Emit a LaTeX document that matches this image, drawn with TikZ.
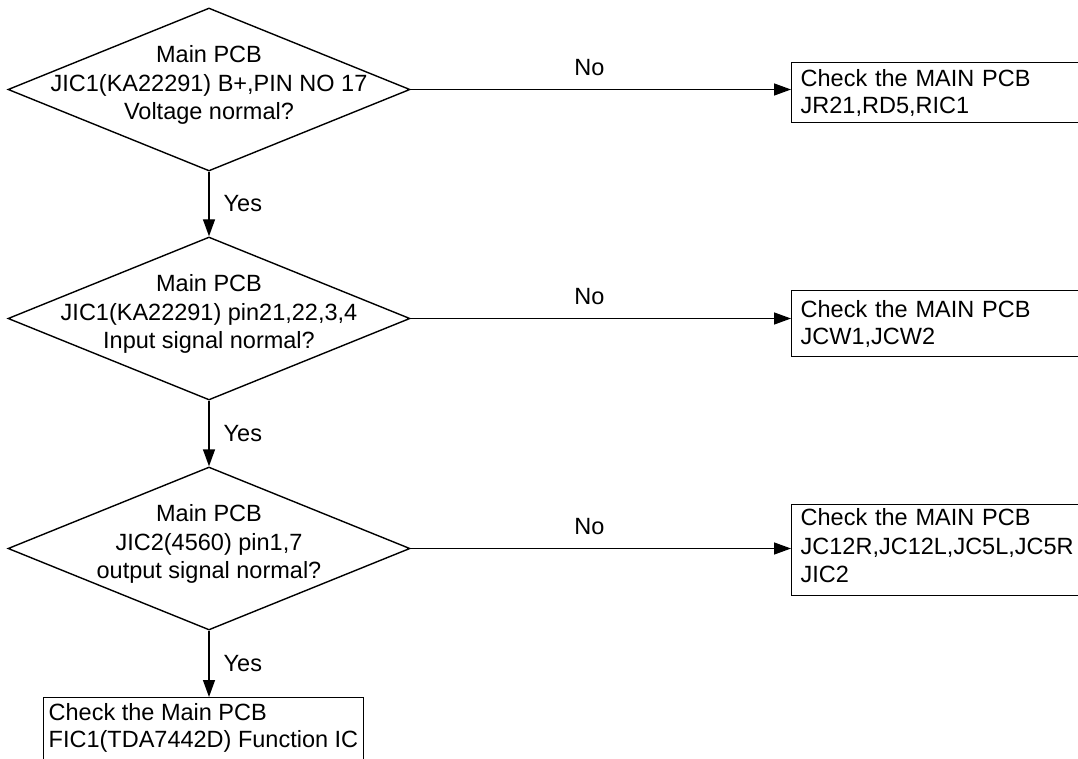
\documentclass[tikz,border=0pt]{standalone}
\usepackage{fontspec}
\setmainfont{Liberation Sans}
\usetikzlibrary{shapes.geometric,arrows.meta}
\begin{document}
\begin{tikzpicture}[x=1pt,y=-1pt,line width=1.4pt,
  every node/.style={font=\fontsize{23.5}{28.5}\selectfont},
  decision/.style={diamond, draw, inner sep=0pt, minimum width=402pt, minimum height=163pt},
  dtext/.style={align=center, inner sep=0pt},
  box/.style={draw, rectangle, anchor=north west, align=left, inner xsep=9pt, inner ysep=0pt, text width=300pt},
  arr/.style={-{Triangle[length=17pt,width=12pt]}},
  lab/.style={inner sep=0pt}]
\path[use as bounding box, clip] (0,0) rectangle (1078,759);
% decisions
\node[decision] (d1) at (209,89.5) {};
\node[dtext] (t1) at (209,85) {Main PCB\\JIC1(KA22291) B+,PIN NO 17\\Voltage normal?};
\node[decision] (d2) at (209,318.5) {};
\node[dtext] (t2) at (209,314) {Main PCB\\JIC1(KA22291) pin21,22,3,4\\Input signal normal?};
\node[decision] (d3) at (209,548.5) {};
\node[dtext] (t3) at (209,544) {Main PCB\\JIC2(4560) pin1,7\\output signal normal?};
% boxes
\node[box, minimum height=60pt, font=\fontsize{23.5}{26.6}\selectfont] (b1) at (791,62) {Check the MAIN PCB\\JR21,RD5,RIC1};
\node[box, minimum height=66pt, font=\fontsize{23.5}{26.6}\selectfont] (b2) at (791,290) {Check the MAIN PCB\\JCW1,JCW2};
\node[box, minimum height=91pt, font=\fontsize{23.5}{28.3}\selectfont] (b3) at (791,504) {Check the MAIN PCB\\JC12R,JC12L,JC5L,JC5R\\JIC2\rule[-9pt]{0pt}{1pt}};
\node[draw, rectangle, anchor=north west, align=left, inner xsep=5pt, inner ysep=6.2pt, font=\fontsize{23.5}{27}\selectfont] (b4) at (43,697) {Check the Main PCB\\FIC1(TDA7442D) Function IC\rule[-14pt]{0pt}{1pt}};
% connectors
\draw[arr] (d1.east) -- (d1.east -| b1.west) node[lab, pos=0.47, anchor=south, yshift=13pt] {No};
\draw[arr] (d2.east) -- (d2.east -| b2.west) node[lab, pos=0.47, anchor=south, yshift=13pt] {No};
\draw[arr] (d3.east) -- (d3.east -| b3.west) node[lab, pos=0.47, anchor=south, yshift=13pt] {No};
\draw[arr] (d1.south) -- (d2.north) node[lab, midway, anchor=west, xshift=14pt] {Yes};
\draw[arr] (d2.south) -- (d3.north) node[lab, midway, anchor=west, xshift=14pt] {Yes};
\draw[arr] (d3.south) -- (d3.south |- b4.north) node[lab, midway, anchor=west, xshift=14pt] {Yes};
\end{tikzpicture}
\end{document}
